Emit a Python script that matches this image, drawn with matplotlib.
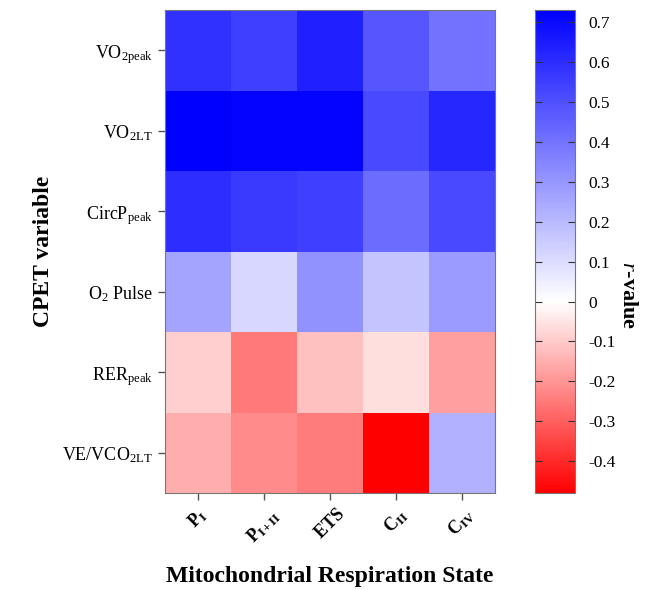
import numpy as np
import matplotlib
matplotlib.use("Agg")
import matplotlib.pyplot as plt
from matplotlib.colors import LinearSegmentedColormap, Normalize

plt.rcParams['font.family'] = 'Liberation Serif'
plt.rcParams['mathtext.fontset'] = 'custom'
plt.rcParams['mathtext.rm'] = 'Liberation Serif'
plt.rcParams['mathtext.it'] = 'Liberation Serif:italic'
plt.rcParams['mathtext.bf'] = 'Liberation Serif:bold'

cpet_vars = [r'VO$_{\mathrm{2peak}}$', r'VO$_{\mathrm{2LT}}$', r'CircP$_{\mathrm{peak}}$',
             r'O$_{2}$ Pulse', r'RER$_{\mathrm{peak}}$', r'VE/VCO$_{\mathrm{2LT}}$']
states = [r'$\mathbf{P_{I}}$', r'$\mathbf{P_{I+II}}$', r'$\mathbf{ETS}$',
          r'$\mathbf{C_{II}}$', r'$\mathbf{C_{IV}}$']

# r-values (rows = CPET variable, cols = respiration state)
vo2peak = [0.59, 0.55, 0.64, 0.48, 0.40]
vo2lt = [0.73, 0.72, 0.72, 0.52, 0.62]
circp = [0.60, 0.56, 0.55, 0.42, 0.52]
o2pulse = [0.26, 0.115, 0.31, 0.17, 0.29]
rerpeak = [-0.09, -0.25, -0.12, -0.06, -0.18]
vevco2 = [-0.15, -0.22, -0.245, -0.48, 0.22]

r_vals = np.array([vo2peak, vo2lt, circp, o2pulse, rerpeak, vevco2])
vmin, vmax = -0.48, 0.73

# red -> white (at r = 0) -> blue, linear colorbar
mid = (0 - vmin) / (vmax - vmin)
cmap = LinearSegmentedColormap.from_list('rwb', [(0, (1, 0, 0)), (mid, (1, 1, 1)), (1, (0, 0, 1))])

fig = plt.figure(figsize=(6.51, 5.9), dpi=100)
ax = fig.add_axes([0.253, 0.164, 0.507, 0.819])
cax = fig.add_axes([0.822, 0.164, 0.061, 0.819])

mesh = ax.pcolormesh(r_vals, cmap=cmap, norm=Normalize(vmin, vmax))
ax.set_xlim(0, len(states))
ax.set_ylim(len(cpet_vars), 0)

ax.set_xticks(np.arange(len(states)) + 0.5)
ax.set_xticklabels(states, rotation=45, fontsize=13, ha='center', va='top')
ax.set_yticks(np.arange(len(cpet_vars)) + 0.5)
ax.set_yticklabels(cpet_vars, fontsize=13)
ax.tick_params(axis='both', length=5, color='#555555', width=1)
ax.tick_params(axis='x', pad=4)
for s in ax.spines.values():
    s.set_color('#777777')

ax.set_xlabel('Mitochondrial Respiration State', fontsize=17, fontweight='bold', labelpad=14)
ax.set_ylabel('CPET variable', fontsize=17, fontweight='bold', labelpad=6)

cb = fig.colorbar(mesh, cax=cax)
cb.set_ticks([0.7, 0.6, 0.5, 0.4, 0.3, 0.2, 0.1, 0, -0.1, -0.2, -0.3, -0.4])
cb.set_ticklabels(['0.7', '0.6', '0.5', '0.4', '0.3', '0.2', '0.1', '0',
                   '-0.1', '-0.2', '-0.3', '-0.4'])
cax.tick_params(direction='in', left=True, right=True, length=5, labelsize=12.5,
                color='#333333', pad=10)
cb.outline.set_edgecolor('#777777')
cb.set_label(r'$\mathbf{\mathit{r}}$-value', fontsize=16, fontweight='bold', rotation=270)
cax.yaxis.set_label_coords(2.6, 0.41)

fig.savefig('out.png', dpi=100)
